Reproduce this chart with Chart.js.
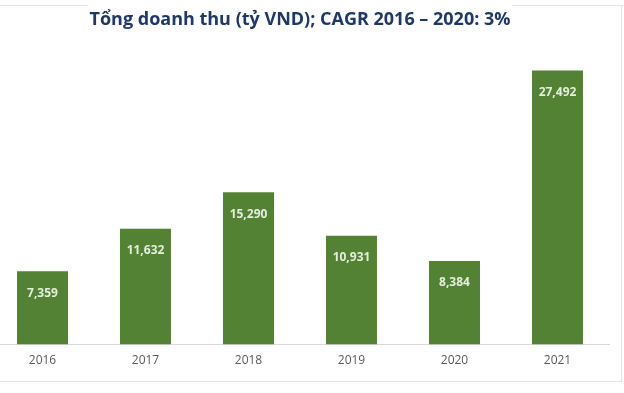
<!DOCTYPE html>
<html>
<head>
<meta charset="utf-8">
<script src="https://cdn.jsdelivr.net/npm/chart.js@4.4.1/dist/chart.umd.min.js"></script>
<style>
	html, body {
		margin: 0;
		padding: 0;
		background: #ffffff;
		overflow: hidden;
	}
	#frame {
		position: relative;
		width: 624px;
		height: 393px;
	}
	#wrap {
		position: absolute;
		left: -9px;
		top: 0;
		width: 633px;
		height: 393px;
	}
	.line {
		position: absolute;
		background: #e4e4e4;
	}
</style>
</head>
<body>
<div id="frame">
	<div class="line" style="left:0; top:5px; width:88px; height:1px;"></div>
	<div class="line" style="left:512px; top:5px; width:112px; height:1px;"></div>
	<div class="line" style="left:0; top:381px; width:622px; height:1px;"></div>
	<div class="line" style="left:621px; top:5px; width:1px; height:377px;"></div>
	<div id="wrap"><canvas id="revenue"></canvas></div>
</div>
<script>
const years = ["2016", "2017", "2018", "2019", "2020", "2021"];
const revenue = [7359, 11632, 15290, 10931, 8384, 27492];

const barColor = "#548235";
const labelColor = "#e2efda";

// value labels drawn inside each bar, near its top
const barLabels = {
	id: "barLabels",
	afterDatasetsDraw(chart) {
		const ctx = chart.ctx;
		const meta = chart.getDatasetMeta(0);
		ctx.save();
		ctx.fillStyle = labelColor;
		ctx.font = "bold 12px 'Open Sans', sans-serif";
		ctx.textAlign = "center";
		ctx.textBaseline = "middle";
		meta.data.forEach((bar, i) => {
			ctx.fillText(revenue[i].toLocaleString("en-US"), bar.x, bar.y + 22);
		});
		ctx.restore();
	},
};

const chartRevenue = document.getElementById("revenue");

const graphRevenue = new Chart(chartRevenue, {
	type: "bar",
	data: {
		labels: years,
		datasets: [
			{
				label: "Tổng doanh thu",
				data: revenue,
				backgroundColor: barColor,
				borderWidth: 0,
				categoryPercentage: 1,
				barPercentage: 0.495,
			},
		],
	},
	options: {
		responsive: true,
		maintainAspectRatio: false,
		animation: false,
		layout: {
			padding: {
				left: 0,
				right: 15,
				top: 0,
				bottom: 16,
			},
		},
		plugins: {
			title: {
				display: true,
				text: "Tổng doanh thu (tỷ VND); CAGR 2016 – 2020: 3%",
				color: "#1f3864",
				font: {
					family: "'Open Sans', sans-serif",
					size: 18,
					weight: "bold",
				},
				padding: {
					top: 9,
					bottom: 15,
				},
			},
			legend: {
				display: false,
			},
			tooltip: {
				enabled: false,
			},
		},
		scales: {
			x: {
				grid: {
					display: false,
					drawTicks: false,
				},
				border: {
					display: true,
					color: "#d9d9d9",
					width: 1,
				},
				ticks: {
					color: "#595959",
					padding: 9,
					font: {
						family: "'Open Sans', sans-serif",
						size: 12,
					},
				},
			},
			y: {
				display: false,
				min: 0,
				max: 30000,
			},
		},
	},
	plugins: [barLabels],
});
</script>
</body>
</html>
